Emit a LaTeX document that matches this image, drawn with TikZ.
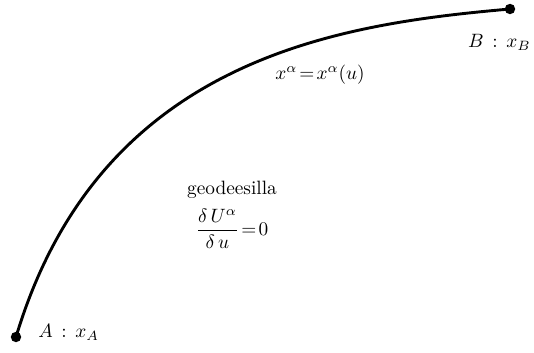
\documentclass[tikz,border=0pt]{standalone}
\usepackage{amsmath}
\usepackage{tikz}
\usetikzlibrary{positioning,calc}
\tikzset{
    % Endpoint of the world line
    endpoint/.style={
        circle,
        fill=black,
        inner sep=0pt,
        minimum size=5.4pt,
    },
    % Thick curve for the geodesic
    geodesic/.style={
        line width=1.5pt,
        line cap=round,
    },
    % Label text
    curve label/.style={
        font=\normalsize,
        inner sep=1pt,
    },
}
\begin{document}
\begin{tikzpicture}[x=0.518pt, y=-0.518pt]
    \useasboundingbox (0,0) rectangle (534,352);
    \node (pA) [endpoint] at (16,337) {};
    \node (pB) [endpoint] at (510,9) {};

    \draw [geodesic] (pA.center) .. controls (100,57) and (340,24) .. (pB.center);

    \node (labA) [curve label, anchor=west] at (36,332) {$A\,:\,x_{A}$};
    \node (labB) [curve label, anchor=east] at (533,42) {$B\,:\,x_{B}$};
    \node (param) [curve label] at (320,75) {$x^{\alpha}\!=\!x^{\alpha}(u)$};
    \node (geo) [curve label] at (232,190) {geodeesilla};
    \node (eq) [curve label, below=3pt of geo] {$\dfrac{\delta\,U^{\alpha}}{\delta\,u}\!=\!0$};
\end{tikzpicture}
\end{document}
